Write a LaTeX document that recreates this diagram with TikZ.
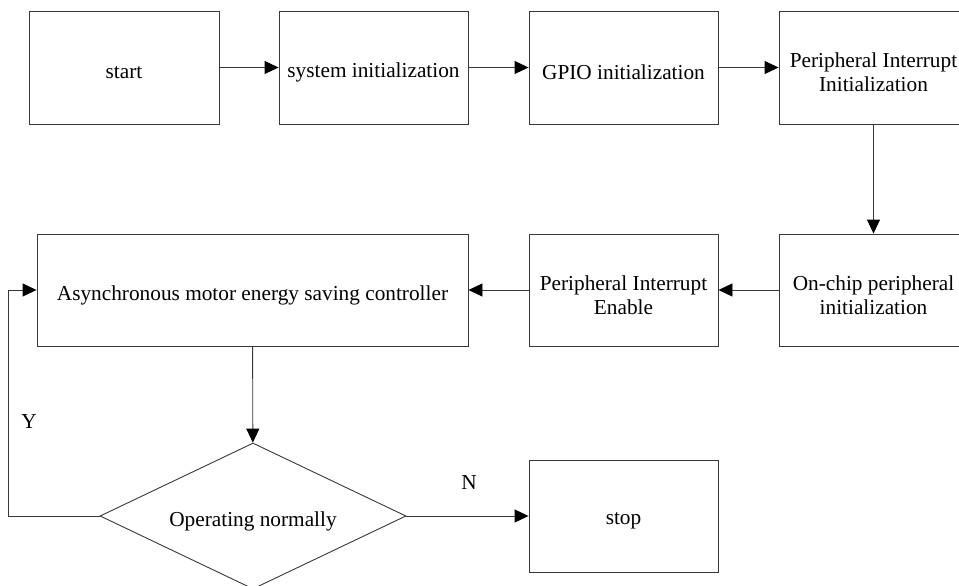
\documentclass[tikz,border=0pt]{standalone}
\usepackage{fontspec}
\setmainfont{Liberation Serif}
\usetikzlibrary{arrows.meta,shapes.geometric}
\begin{document}
\begin{tikzpicture}[x=1pt,y=-1pt,
  lc/.style={draw=black!78, line width=0.9pt},
  txt/.style={font=\fontsize{21.3}{24}\selectfont, align=center, inner sep=0pt, yshift=-5pt},
  box/.style={lc, rectangle, minimum width=189pt, minimum height=113pt, inner sep=0pt},
  arr/.style={lc, -{Triangle[length=14pt,width=13pt,color=black,fill=black]}},
  lab/.style={font=\fontsize{21.3}{24}\selectfont, inner sep=0pt}]
\path[use as bounding box] (0,0) rectangle (959,586);
\begin{scope}
\clip (0,0) rectangle (959,586);
\node[box, minimum width=190pt, label={[txt]center:start}] (start) at (124,67.5) {};
\node[box, label={[txt]center:system initialization}] (sys) at (373.5,67.5) {};
\node[box, label={[txt]center:GPIO initialization}] (gpio) at (623.5,67.5) {};
\node[box, label={[txt]center:{Peripheral Interrupt\\Initialization}}] (pii) at (873.5,67.5) {};
\node[box, minimum height=112pt, label={[txt]center:{On-chip peripheral\\initialization}}] (onchip) at (873.5,290) {};
\node[box, minimum height=112pt, label={[txt]center:{Peripheral Interrupt\\Enable}}] (pie) at (623.5,290) {};
\node[box, minimum width=431pt, minimum height=112pt, label={[txt]center:Asynchronous motor energy saving controller}] (async) at (252.5,290) {};
\node[lc, diamond, aspect=2.096, minimum width=306pt, minimum height=146pt, inner sep=0pt, label={[txt]center:Operating normally}] (dec) at (253,516) {};
\node[box, minimum height=112pt, label={[txt]center:stop}] (stop) at (623.5,516) {};
\coordinate (loopA) at (8,516);
\coordinate (loopB) at (8,290);
\draw[arr] (start) -- (sys);
\draw[arr] (sys) -- (gpio);
\draw[arr] (gpio) -- (pii);
\draw[arr] (pii) -- (onchip);
\draw[arr] (onchip) -- (pie);
\draw[arr] (pie) -- (async);
\draw[arr] (async) -- (dec);
\draw[arr] (dec) -- (stop);
\draw[arr] (dec.west) -- (loopA) -- (loopB) -- (async.west);
\node[lab] (ylab) at (29,422) {Y};
\node[lab] (nlab) at (469,483) {N};
\end{scope}
\end{tikzpicture}
\end{document}
